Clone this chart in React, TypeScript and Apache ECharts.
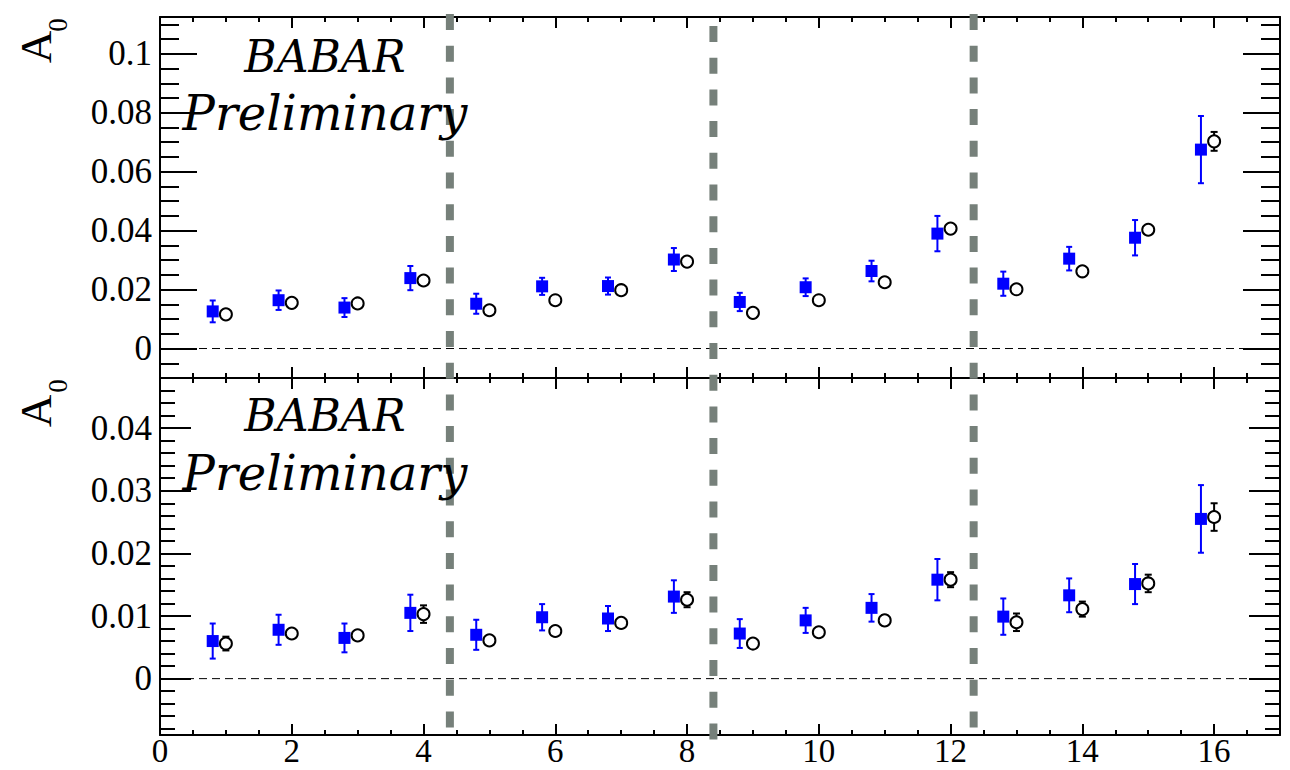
import { useEffect, useRef } from "react";
import * as echarts from "echarts";

// Horizontal positions of the two measurements in each bin
const squareX = [0.8, 1.8, 2.8, 3.8, 4.8, 5.8, 6.8, 7.8, 8.8, 9.8, 10.8, 11.8, 12.8, 13.8, 14.8, 15.8];
const circleX = [1, 2, 3, 4, 5, 6, 7, 8, 9, 10, 11, 12, 13, 14, 15, 16];

// Upper panel: A0 values and uncertainties
const upperSquare = [0.0126, 0.0164, 0.0139, 0.0239, 0.0152, 0.0211, 0.0212, 0.0302, 0.0158, 0.0208, 0.0263, 0.0390, 0.0220, 0.0305, 0.0376, 0.0675];
const upperSquareErr = [0.0037, 0.0033, 0.0032, 0.0041, 0.0034, 0.0029, 0.0029, 0.0039, 0.0031, 0.0030, 0.0035, 0.0060, 0.0041, 0.0040, 0.0060, 0.0114];
const upperCircle = [0.0116, 0.0155, 0.0153, 0.0231, 0.0130, 0.0164, 0.0198, 0.0295, 0.0121, 0.0164, 0.0225, 0.0407, 0.0201, 0.0262, 0.0403, 0.0703];
const upperCircleErr = [0.0010, 0.0010, 0.0010, 0.0012, 0.0010, 0.0010, 0.0010, 0.0013, 0.0010, 0.0010, 0.0011, 0.0014, 0.0011, 0.0012, 0.0013, 0.0032];

// Lower panel: A0 values and uncertainties
const lowerSquare = [0.0060, 0.0078, 0.0065, 0.0105, 0.0070, 0.0098, 0.0096, 0.0131, 0.0072, 0.0093, 0.0113, 0.0158, 0.0099, 0.0133, 0.0151, 0.0255];
const lowerSquareErr = [0.0028, 0.0024, 0.0023, 0.0029, 0.0024, 0.0021, 0.0020, 0.0026, 0.0023, 0.0020, 0.0022, 0.0033, 0.0029, 0.0027, 0.0032, 0.0054];
const lowerCircle = [0.0056, 0.0072, 0.0069, 0.0103, 0.0061, 0.0076, 0.0089, 0.0126, 0.0056, 0.0074, 0.0093, 0.0158, 0.0090, 0.0111, 0.0152, 0.0258];
const lowerCircleErr = [0.0011, 0.0007, 0.0007, 0.0014, 0.0007, 0.0007, 0.0008, 0.0012, 0.0007, 0.0007, 0.0008, 0.0012, 0.0014, 0.0012, 0.0014, 0.0022];

// Bin-group boundaries
const boundaryX = [4.4, 8.4, 12.35];

// Axis ranges and labelled ticks
const X_RANGE = [0, 17];
const UPPER_RANGE = [-0.01, 0.1125];
const LOWER_RANGE = [-0.009, 0.048];
const xMajorTicks = [0, 2, 4, 6, 8, 10, 12, 14, 16];
const upperYTicks = [0, 0.02, 0.04, 0.06, 0.08, 0.1];
const lowerYTicks = [0, 0.01, 0.02, 0.03, 0.04];

const SERIF = '"Liberation Serif", "Times New Roman", serif';
const SCRIPT = '"DejaVu Serif", serif';
const BLUE = "#0000ff";
const GRAY = "#76807a";

const GRID_LEFT = 160;
const GRID_WIDTH = 1120;
const UPPER_GRID = { top: 17, height: 361 };
const LOWER_GRID = { top: 378, height: 357 };

function steps(from: number, to: number, step: number): number[] {
  const out: number[] = [];
  const n = Math.round((to - from) / step);
  for (let i = 0; i <= n; i++) out.push(Math.round((from + i * step) * 1e6) / 1e6);
  return out;
}
function withoutMajor(all: number[], major: number[]): number[] {
  return all.filter((v) => !major.some((m) => Math.abs(m - v) < 1e-9));
}

const xMinorTicks = withoutMajor(steps(0.5, 16.5, 0.5), xMajorTicks);
const upperYMinor = withoutMajor(steps(-0.005, 0.11, 0.005), upperYTicks);
const lowerYMinor = withoutMajor(steps(-0.008, 0.046, 0.002), lowerYTicks);

const frameLine = { color: "#000", width: 2 };

function fmt(v: number): string {
  return String(Math.round(v * 1e6) / 1e6);
}

function xAxis(gridIndex: number, position: string, ticks: number[], len: number, main: boolean, labels: boolean) {
  return {
    type: "value",
    gridIndex,
    position,
    min: X_RANGE[0],
    max: X_RANGE[1],
    axisLine: { show: main, onZero: false, lineStyle: frameLine },
    axisTick: { show: true, inside: true, length: len, customValues: ticks, lineStyle: frameLine },
    axisLabel: labels
      ? {
          show: true,
          customValues: ticks,
          margin: 2,
          lineHeight: 28,
          color: "#000",
          fontFamily: SERIF,
          fontSize: 33,
          formatter: fmt,
        }
      : { show: false },
    splitLine: { show: false },
  };
}

function yAxis(gridIndex: number, position: string, range: number[], ticks: number[], len: number, main: boolean, labels: boolean) {
  return {
    type: "value",
    gridIndex,
    position,
    min: range[0],
    max: range[1],
    axisLine: { show: main, onZero: false, lineStyle: frameLine },
    axisTick: { show: true, inside: true, length: len, customValues: ticks, lineStyle: frameLine },
    axisLabel: labels
      ? { show: true, customValues: ticks, margin: 8, color: "#000", fontFamily: SERIF, fontSize: 35, formatter: fmt }
      : { show: false },
    splitLine: { show: false },
  };
}

function errorBars(xs: number[], ys: number[], errs: number[], color: string, cap: number, xi: number, yi: number) {
  return {
    type: "custom",
    xAxisIndex: xi,
    yAxisIndex: yi,
    z: 3,
    silent: true,
    data: xs.map((x, i) => [x, ys[i], errs[i]]),
    encode: { x: 0, y: 1 },
    renderItem: (_params: any, api: any) => {
      const x = api.value(0);
      const y = api.value(1);
      const e = api.value(2);
      const hi = api.coord([x, y + e]);
      const lo = api.coord([x, y - e]);
      const style = { stroke: color, lineWidth: 2 };
      return {
        type: "group",
        children: [
          { type: "line", shape: { x1: hi[0], y1: hi[1], x2: lo[0], y2: lo[1] }, style },
          { type: "line", shape: { x1: hi[0] - cap, y1: hi[1], x2: hi[0] + cap, y2: hi[1] }, style },
          { type: "line", shape: { x1: lo[0] - cap, y1: lo[1], x2: lo[0] + cap, y2: lo[1] }, style },
        ],
      };
    },
  };
}

function squares(xs: number[], ys: number[], xi: number, yi: number) {
  return {
    type: "scatter",
    xAxisIndex: xi,
    yAxisIndex: yi,
    z: 4,
    silent: true,
    symbol: "rect",
    symbolSize: 12,
    itemStyle: { color: BLUE, opacity: 1 },
    data: xs.map((x, i) => [x, ys[i]]),
  };
}

function circles(xs: number[], ys: number[], xi: number, yi: number) {
  return {
    type: "scatter",
    xAxisIndex: xi,
    yAxisIndex: yi,
    z: 4,
    silent: true,
    symbol: "circle",
    symbolSize: 12,
    itemStyle: { color: "#fff", borderColor: "#000", borderWidth: 2, opacity: 1 },
    data: xs.map((x, i) => [x, ys[i]]),
  };
}

function zeroLine(xi: number, yi: number) {
  return {
    type: "line",
    xAxisIndex: xi,
    yAxisIndex: yi,
    z: 1,
    silent: true,
    symbol: "none",
    lineStyle: { color: "#000", width: 1, type: [8, 5] },
    data: [
      [X_RANGE[0], 0],
      [X_RANGE[1], 0],
    ],
  };
}

function panelLabels(axisCenterY: number, subY: number, babarY: number, prelimY: number) {
  return [
    {
      type: "text",
      x: 36,
      y: axisCenterY,
      rotation: Math.PI / 2,
      z: 50,
      style: { text: "A", fontFamily: SERIF, fontSize: 45, fill: "#000", textAlign: "center", textVerticalAlign: "middle" },
    },
    {
      type: "text",
      x: 58,
      y: subY,
      rotation: Math.PI / 2,
      z: 50,
      style: { text: "0", fontFamily: SERIF, fontSize: 27, fill: "#000", textAlign: "center", textVerticalAlign: "middle" },
    },
    {
      type: "text",
      x: 325,
      y: babarY,
      z: 50,
      style: { text: "BABAR", fontFamily: SCRIPT, fontStyle: "italic", fontSize: 44, fill: "#000", textAlign: "center", textVerticalAlign: "middle" },
    },
    {
      type: "text",
      x: 325,
      y: prelimY,
      z: 50,
      style: { text: "Preliminary", fontFamily: SCRIPT, fontStyle: "italic", fontSize: 48, fill: "#000", textAlign: "center", textVerticalAlign: "middle" },
    },
  ];
}

export default function App() {
  const ref = useRef<HTMLDivElement>(null);

  useEffect(() => {
    if (!ref.current) return;
    const chart = echarts.init(ref.current, undefined, { renderer: "svg" });

    const option: any = {
      animation: false,
      backgroundColor: "#fff",
      grid: [
        { left: GRID_LEFT, width: GRID_WIDTH, top: UPPER_GRID.top, height: UPPER_GRID.height, containLabel: false, outerBoundsMode: "none" },
        { left: GRID_LEFT, width: GRID_WIDTH, top: LOWER_GRID.top, height: LOWER_GRID.height, containLabel: false, outerBoundsMode: "none" },
      ],
      xAxis: [
        xAxis(0, "bottom", xMajorTicks, 11, true, false),
        xAxis(0, "bottom", xMinorTicks, 5, false, false),
        xAxis(0, "top", xMajorTicks, 11, true, false),
        xAxis(0, "top", xMinorTicks, 5, false, false),
        xAxis(1, "bottom", xMajorTicks, 11, true, true),
        xAxis(1, "bottom", xMinorTicks, 5, false, false),
        xAxis(1, "top", xMajorTicks, 11, true, false),
        xAxis(1, "top", xMinorTicks, 5, false, false),
      ],
      yAxis: [
        yAxis(0, "left", UPPER_RANGE, upperYTicks, 37, true, true),
        yAxis(0, "left", UPPER_RANGE, upperYMinor, 19, false, false),
        yAxis(0, "right", UPPER_RANGE, upperYTicks, 37, true, false),
        yAxis(0, "right", UPPER_RANGE, upperYMinor, 19, false, false),
        yAxis(1, "left", LOWER_RANGE, lowerYTicks, 31, true, true),
        yAxis(1, "left", LOWER_RANGE, lowerYMinor, 15, false, false),
        yAxis(1, "right", LOWER_RANGE, lowerYTicks, 31, true, false),
        yAxis(1, "right", LOWER_RANGE, lowerYMinor, 15, false, false),
      ],
      series: [
        zeroLine(0, 0),
        errorBars(squareX, upperSquare, upperSquareErr, BLUE, 3, 0, 0),
        errorBars(circleX, upperCircle, upperCircleErr, "#000", 3.5, 0, 0),
        squares(squareX, upperSquare, 0, 0),
        circles(circleX, upperCircle, 0, 0),
        zeroLine(4, 4),
        errorBars(squareX, lowerSquare, lowerSquareErr, BLUE, 3, 4, 4),
        errorBars(circleX, lowerCircle, lowerCircleErr, "#000", 3.5, 4, 4),
        squares(squareX, lowerSquare, 4, 4),
        circles(circleX, lowerCircle, 4, 4),
      ],
    };
    chart.setOption(option);

    // Vertical dashed boundaries spanning both panels
    const frameTop = chart.convertToPixel({ yAxisIndex: 0 }, UPPER_RANGE[1]) as number;
    const frameBottom = chart.convertToPixel({ yAxisIndex: 4 }, LOWER_RANGE[0]) as number;
    const boundaries = boundaryX.map((bx, i) => {
      const px = chart.convertToPixel({ xAxisIndex: 0 }, bx) as number;
      const shifted = i === 1;
      return {
        type: "line",
        z: 40,
        silent: true,
        shape: {
          x1: px,
          y1: shifted ? frameTop + 9 : frameTop - 3,
          x2: px,
          y2: shifted ? frameBottom + 10 : frameBottom,
        },
        style: { stroke: GRAY, lineWidth: 8, lineDash: [16, 15.7] },
      };
    });

    chart.setOption({
      graphic: [
        ...boundaries,
        ...panelLabels(47, 25, 56, 113),
        ...panelLabels(411, 386, 415, 473),
      ],
    });

    return () => chart.dispose();
  }, []);

  return <div ref={ref} style={{ position: "absolute", left: 0, top: 0, width: 1290, height: 770 }} />;
}
